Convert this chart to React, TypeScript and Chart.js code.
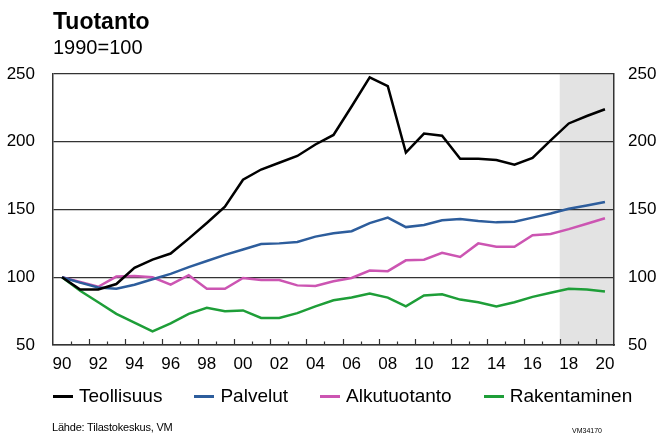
import React, { useEffect, useRef } from "react";
import { Chart, registerables } from "chart.js";

Chart.register(...registerables);

const years = [
  1990, 1991, 1992, 1993, 1994, 1995, 1996, 1997, 1998, 1999,
  2000, 2001, 2002, 2003, 2004, 2005, 2006, 2007, 2008, 2009,
  2010, 2011, 2012, 2013, 2014, 2015, 2016, 2017, 2018, 2019, 2020,
];

const xTickLabels = ["90", "92", "94", "96", "98", "00", "02", "04", "06", "08", "10", "12", "14", "16", "18", "20"];

const teollisuus = [
  100, 91, 91, 95, 107, 113, 117.5, 128.5, 140, 152,
  172, 179.5, 184.5, 189.5, 198, 205, 226, 247.5, 241, 192,
  206, 204.5, 187.5, 187.5, 186.5, 183, 188, 201, 213.5, 219, 224,
];

const palvelut = [
  100, 96, 92.5, 91.5, 94.5, 98.5, 102.5, 107.5, 112, 116.5,
  120.5, 124.5, 125, 126, 130, 132.5, 134, 140, 144, 137,
  138.5, 142, 143, 141.5, 140.5, 141, 144, 147, 150.5, 153, 155.5,
];

const alkutuotanto = [
  100, 96.5, 93, 100.5, 101, 100, 94.5, 101.5, 91.5, 91.5,
  99.5, 98, 98, 94, 93.5, 97, 99.5, 105, 104.5, 112.5,
  113, 118, 115, 125, 122.5, 122.5, 131, 132, 135.5, 139.5, 143.5,
];

const rakentaminen = [
  100, 90, 81.5, 73, 66.5, 60, 66, 73, 77.5, 75,
  75.5, 70, 70, 73.5, 78.5, 83, 85, 88, 85, 78.5,
  86.5, 87.5, 83.5, 81.5, 78.5, 81.5, 85.5, 88.5, 91.5, 91, 89.5,
];

const seriesNames = ["Teollisuus", "Palvelut", "Alkutuotanto", "Rakentaminen"];
const seriesColors = ["#000000", "#2d5d9c", "#cc55b2", "#1e9e38"];

const forecastStartYear = 2018;

const FONT = "'Liberation Sans', Arial, Helvetica, sans-serif";

const forecastShade = {
  id: "forecastShade",
  beforeDraw(chart: any) {
    const { ctx, chartArea, scales } = chart;
    const x = scales.x;
    const idx = years.indexOf(forecastStartYear);
    const start = x.getPixelForValue(idx - 0.5);
    ctx.save();
    ctx.fillStyle = "#e3e3e3";
    ctx.fillRect(start, chartArea.top, chartArea.right - start, chartArea.bottom - chartArea.top);
    ctx.restore();
  },
};

const innerTicks = {
  id: "innerTicks",
  afterDatasetsDraw(chart: any) {
    const { ctx, chartArea, scales } = chart;
    const x = scales.x;
    ctx.save();
    ctx.strokeStyle = "#333333";
    ctx.lineWidth = 1.2;
    for (let i = 1; i < years.length; i++) {
      const px = Math.round(x.getPixelForValue(i - 0.5)) + 0.5;
      const len = i % 2 === 0 ? 6 : 3.5;
      ctx.beginPath();
      ctx.moveTo(px, chartArea.bottom);
      ctx.lineTo(px, chartArea.bottom - len);
      ctx.stroke();
    }
    ctx.restore();
  },
};

export default function App() {
  const canvasRef = useRef<HTMLCanvasElement | null>(null);

  useEffect(() => {
    const canvas = canvasRef.current;
    if (!canvas) return;
    const seriesData = [teollisuus, palvelut, alkutuotanto, rakentaminen];
    const chart = new Chart(canvas, {
      type: "line",
      data: {
        labels: years.map(String),
        datasets: seriesNames.map((name, i) => ({
          label: name,
          data: seriesData[i],
          borderColor: seriesColors[i],
          backgroundColor: seriesColors[i],
          borderWidth: 2.5,
          pointRadius: 0,
          tension: 0,
        })),
      },
      options: {
        responsive: false,
        animation: false,
        devicePixelRatio: 1,
        layout: { padding: { top: 74, bottom: 59, left: 0, right: 0 } },
        plugins: {
          title: { display: false },
          tooltip: { enabled: false },
          legend: { display: false },
        },
        scales: {
          x: {
            type: "category",
            offset: true,
            grid: { display: true, drawOnChartArea: false, drawTicks: false, offset: true },
            border: { display: true, color: "#333333", width: 1.5 },
            ticks: {
              autoSkip: false,
              maxRotation: 0,
              padding: 9,
              color: "#000",
              font: { family: FONT, size: 17 },
              callback: (_v: any, index: number) => (index % 2 === 0 ? xTickLabels[index / 2] : ""),
            },
            afterFit: (s: any) => {
              s.height = 30;
            },
          },
          y: {
            position: "left",
            min: 50,
            max: 250,
            ticks: {
              stepSize: 50,
              padding: 18,
              color: "#000",
              font: { family: FONT, size: 17 },
            },
            grid: { color: "#333333", lineWidth: 1.3, drawTicks: false },
            border: { display: true, color: "#333333", width: 1.5 },
            afterFit: (s: any) => {
              s.width = 53;
            },
          },
          y2: {
            position: "right",
            min: 50,
            max: 250,
            ticks: {
              stepSize: 50,
              padding: 14,
              color: "#000",
              font: { family: FONT, size: 17 },
            },
            grid: { drawOnChartArea: false, drawTicks: false },
            border: { display: true, color: "#333333", width: 1.5 },
            afterFit: (s: any) => {
              s.width = 47;
            },
          },
        },
      },
      plugins: [forecastShade, innerTicks],
    } as any);
    return () => chart.destroy();
  }, []);

  const base: React.CSSProperties = {
    position: "absolute",
    fontFamily: FONT,
    color: "#000",
    whiteSpace: "nowrap",
    margin: 0,
  };

  return (
    <div style={{ position: "fixed", left: 0, top: 0, width: 661, height: 434, background: "#fff", overflow: "hidden" }}>
      <canvas ref={canvasRef} width={661} height={434} style={{ position: "absolute", left: 0, top: 0, width: 661, height: 434 }} />
      <div style={{ ...base, left: 53, top: 10, fontSize: 23, lineHeight: "23px", fontWeight: "bold" }}>Tuotanto</div>
      <div style={{ ...base, left: 53, top: 36.5, fontSize: 20, lineHeight: "20px" }}>1990=100</div>
      <div
        style={{
          ...base,
          left: 53,
          top: 386,
          height: 20,
          display: "flex",
          alignItems: "center",
          gap: 32,
          fontSize: 19,
          lineHeight: "20px",
        }}
      >
        {seriesNames.map((name, i) => (
          <div key={name} style={{ display: "flex", alignItems: "center", gap: 6 }}>
            <span style={{ display: "inline-block", width: 20, height: 3, background: seriesColors[i] }} />
            <span>{name}</span>
          </div>
        ))}
      </div>
      <div style={{ ...base, left: 52, top: 421.5, fontSize: 11, lineHeight: "11px", letterSpacing: "-0.2px" }}>Lähde: Tilastokeskus, VM</div>
      <div style={{ ...base, left: 572, top: 427, fontSize: 7, lineHeight: "7px" }}>VM34170</div>
    </div>
  );
}
